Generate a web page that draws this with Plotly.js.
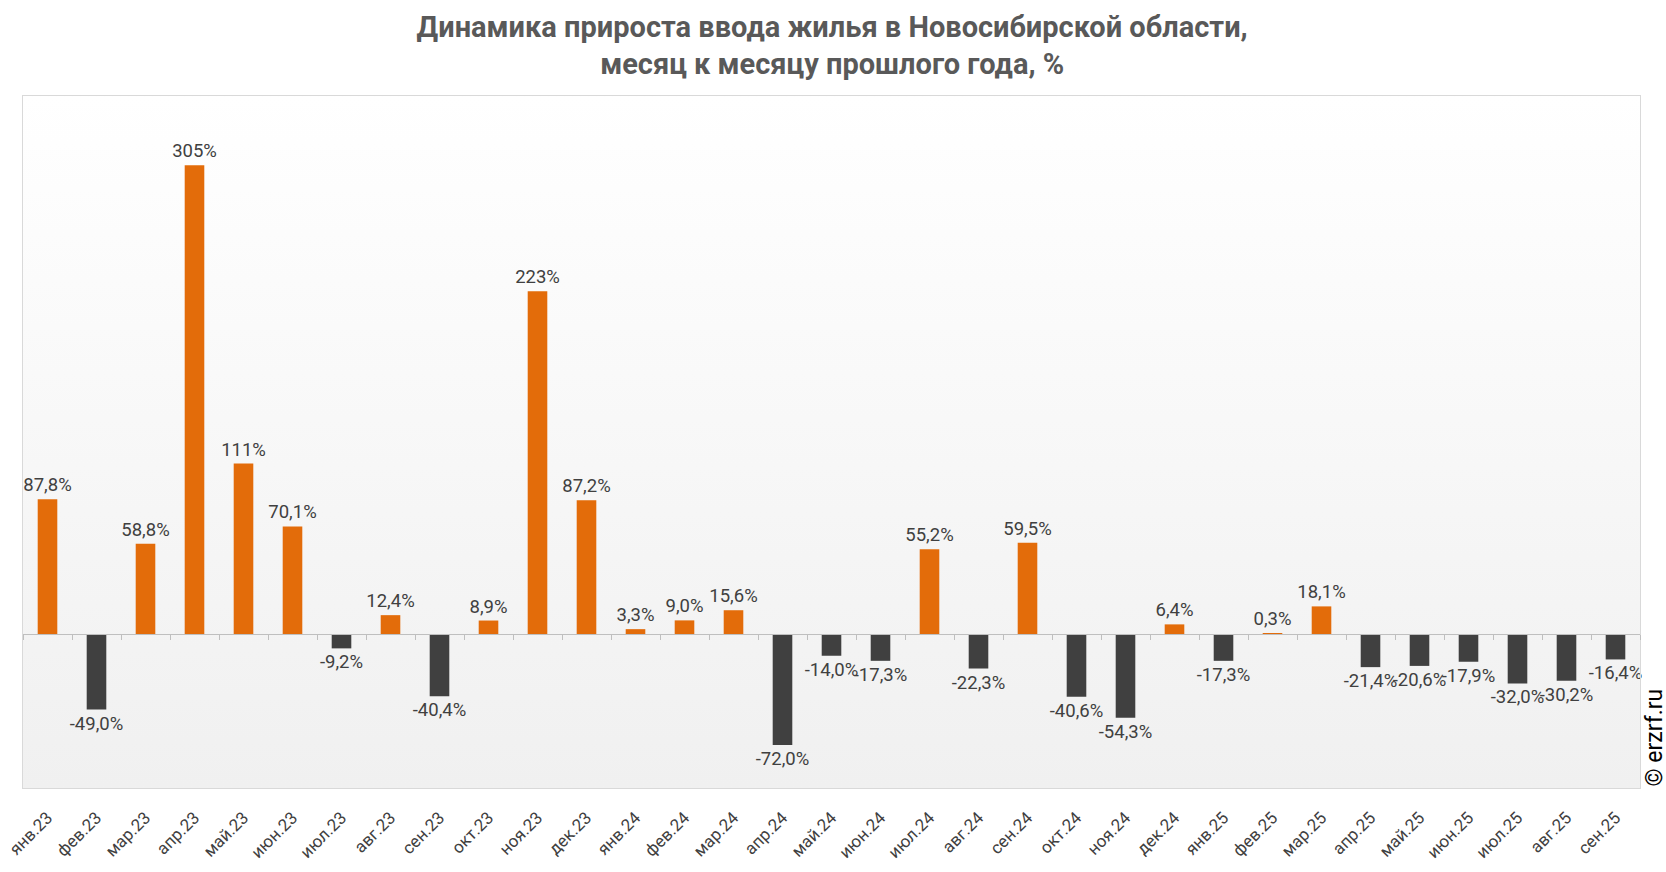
<!DOCTYPE html>
<html>
<head>
<meta charset="utf-8">
<script src="https://cdn.plot.ly/plotly-3.0.1.min.js"></script>
<style>
  html, body { margin: 0; padding: 0; background: #fff; }
  #chart { width: 1666px; height: 872px; }
</style>
</head>
<body>
<div id="chart"></div>
<script>
var months = ['янв.23', 'фев.23', 'мар.23', 'апр.23', 'май.23', 'июн.23', 'июл.23', 'авг.23', 'сен.23', 'окт.23', 'ноя.23', 'дек.23',
              'янв.24', 'фев.24', 'мар.24', 'апр.24', 'май.24', 'июн.24', 'июл.24', 'авг.24', 'сен.24', 'окт.24', 'ноя.24', 'дек.24',
              'янв.25', 'фев.25', 'мар.25', 'апр.25', 'май.25', 'июн.25', 'июл.25', 'авг.25', 'сен.25'];

var growth = [87.8, -49.0, 58.8, 305, 111, 70.1, -9.2, 12.4, -40.4, 8.9, 223, 87.2,
              3.3, 9.0, 15.6, -72.0, -14.0, -17.3, 55.2, -22.3, 59.5, -40.6, -54.3, 6.4,
              -17.3, 0.3, 18.1, -21.4, -20.6, -17.9, -32.0, -30.2, -16.4];

// labels: over 100 without decimals, otherwise one decimal with comma
var labels = growth.map(function (v) {
    if (Math.abs(v) >= 100) return Math.round(v) + '%';
    return v.toFixed(1).replace('.', ',') + '%';
});
var colors = growth.map(function (v) { return v >= 0 ? '#e36c0a' : '#404040'; });

var bgSvg = '<svg xmlns="http://www.w3.org/2000/svg" width="10" height="100" preserveAspectRatio="none">' +
    '<defs><linearGradient id="g" x1="0" y1="0" x2="0" y2="1">' +
    '<stop offset="0" stop-color="#ffffff"/><stop offset="1" stop-color="#f0f0f0"/></linearGradient></defs>' +
    '<rect width="10" height="100" fill="url(#g)"/></svg>';

var bars = {
    type: 'bar',
    x: months,
    y: growth,
    marker: { color: colors },
    text: labels,
    textposition: 'outside',
    constraintext: 'none',
    cliponaxis: false,
    textfont: { family: 'Roboto, sans-serif', size: 18.5, color: '#404040' },
    hoverinfo: 'x+y',
    showlegend: false
};

// invisible trace so the zero-line axis with ticks gets drawn
var zeroAxis = {
    type: 'scatter',
    x: months,
    y: months.map(function () { return 0; }),
    xaxis: 'x2',
    mode: 'none',
    hoverinfo: 'skip',
    showlegend: false
};

var layout = {
    width: 1666,
    height: 872,
    margin: { l: 23, r: 26, t: 96, b: 84 },
    paper_bgcolor: '#ffffff',
    plot_bgcolor: 'rgba(0,0,0,0)',
    font: { family: 'Roboto, sans-serif', color: '#404040' },
    title: {
        text: 'Динамика прироста ввода жилья в Новосибирской области,<br>месяц к месяцу прошлого года, %',
        font: { family: 'Roboto, sans-serif', size: 29, color: '#595959', weight: 'bold' },
        x: 0.4995,
        xanchor: 'center',
        y: 0.958,
        yanchor: 'top'
    },
    bargap: 0.6,
    xaxis: {
        type: 'category',
        showline: true,
        linecolor: '#d9d9d9',
        mirror: true,
        ticks: 'outside',
        ticklen: 12,
        tickcolor: 'rgba(0,0,0,0)',
        tickangle: -45,
        tickfont: { family: 'Roboto, sans-serif', size: 17, color: '#404040' },
        showgrid: false,
        zeroline: false
    },
    xaxis2: {
        type: 'category',
        overlaying: 'x',
        matches: 'x',
        anchor: 'free',
        position: 100 / 450,
        side: 'bottom',
        showline: true,
        linecolor: '#bfbfbf',
        linewidth: 1,
        ticks: 'outside',
        tickson: 'boundaries',
        ticklen: 5,
        tickcolor: '#bfbfbf',
        showticklabels: false,
        showgrid: false
    },
    yaxis: {
        range: [-100, 350],
        showline: true,
        linecolor: '#d9d9d9',
        mirror: true,
        showticklabels: false,
        showgrid: false,
        zeroline: false,
        ticks: ''
    },
    images: [{
        source: 'data:image/svg+xml;charset=utf-8,' + encodeURIComponent(bgSvg),
        xref: 'paper', yref: 'paper',
        x: 0, y: 1, sizex: 1, sizey: 1,
        xanchor: 'left', yanchor: 'top',
        sizing: 'stretch',
        layer: 'below'
    }],
    annotations: [{
        text: '© erzrf.ru',
        xref: 'paper', yref: 'paper',
        x: 1, y: 0,
        xanchor: 'left', yanchor: 'bottom',
        xshift: -1,
        borderpad: 0,
        textangle: -90,
        showarrow: false,
        font: { family: 'Roboto, sans-serif', size: 23, color: '#000000' }
    }]
};

Plotly.newPlot('chart', [bars, zeroAxis], layout, { displayModeBar: false });
</script>
</body>
</html>
